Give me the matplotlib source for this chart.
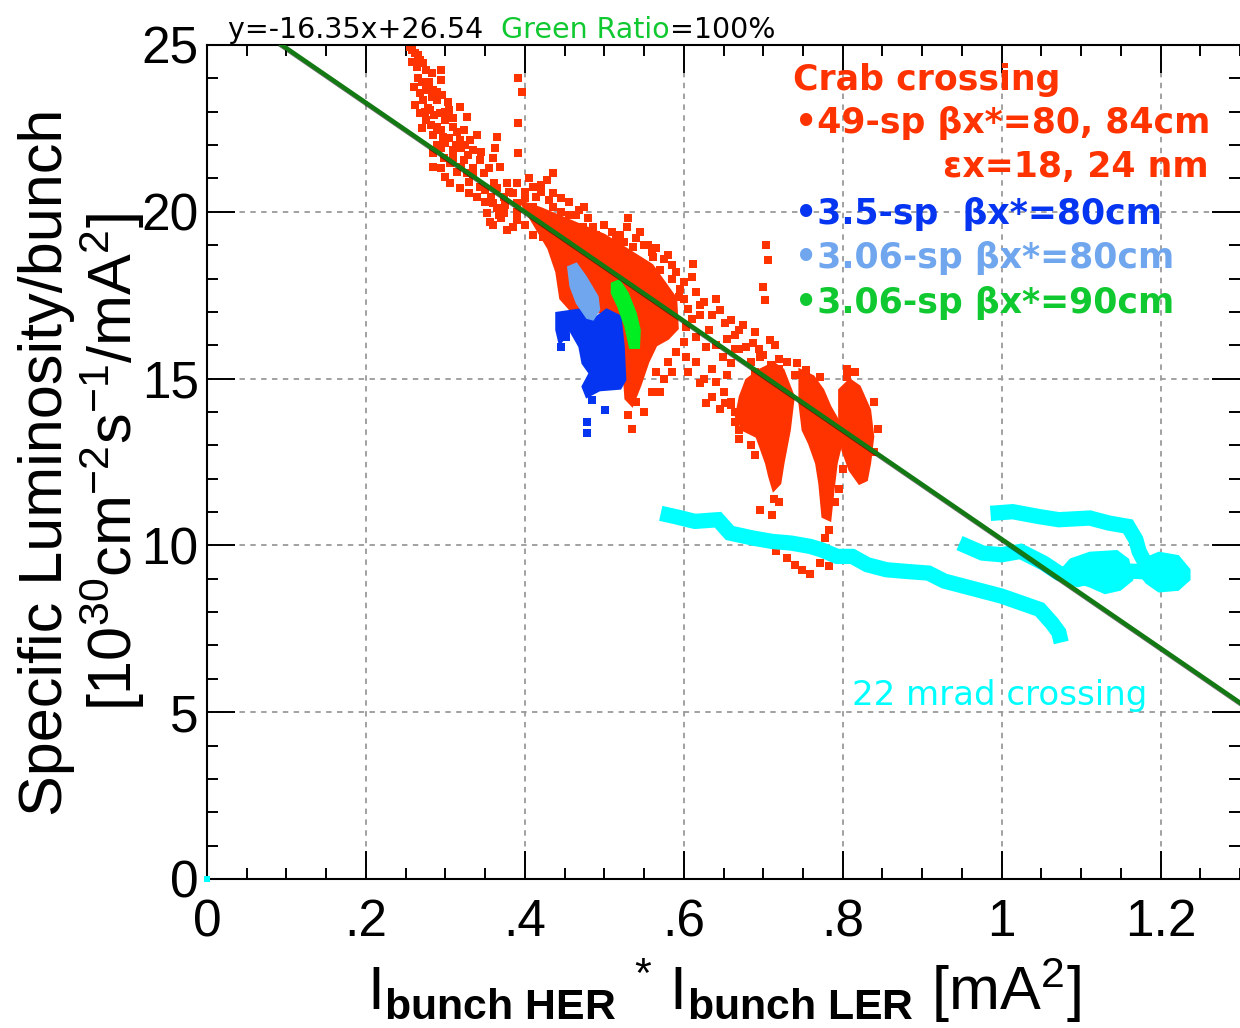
import matplotlib
matplotlib.use('Agg')
import matplotlib.pyplot as plt
import matplotlib.patheffects as pe
import numpy as np

plt.rcParams['mathtext.fontset'] = 'custom'
plt.rcParams['mathtext.rm'] = 'Liberation Sans'
plt.rcParams['mathtext.it'] = 'Liberation Sans'
plt.rcParams['mathtext.bf'] = 'Liberation Sans:bold'

# ---------------- data ----------------
x_ticks = [0, 0.2, 0.4, 0.6, 0.8, 1.0, 1.2]
x_tick_labels = ['0', '.2', '.4', '.6', '.8', '1', '1.2']
y_ticks = [0, 5, 10, 15, 20, 25]
y_tick_labels = ['0', '5', '10', '15', '20', '25']

fit_slope = -16.35
fit_intercept = 26.54
fit_x = [0.0, 1.3]

# crab crossing 49-sp (red) scattered points
red_x = [0.255, 0.262, 0.268, 0.264, 0.276, 0.283, 0.295, 0.295, 0.260, 0.276, 0.285, 0.272, 0.289, 0.303,
         0.281, 0.268, 0.293, 0.318, 0.327, 0.276, 0.300, 0.289, 0.310, 0.323, 0.297, 0.318, 0.331, 0.365,
         0.285, 0.310, 0.335, 0.363, 0.285, 0.306, 0.323, 0.344, 0.327, 0.348, 0.369, 0.306, 0.344, 0.361,
         0.340, 0.357, 0.374, 0.390, 0.410, 0.428, 0.436, 0.352, 0.356, 0.374, 0.378, 0.390, 0.390, 0.414,
         0.419, 0.423, 0.436, 0.436, 0.440, 0.448, 0.461, 0.475, 0.473, 0.486, 0.495, 0.515, 0.528, 0.511,
         0.536, 0.561, 0.570, 0.549,
         0.392, 0.396, 0.392, 0.392,
         0.265, 0.270, 0.280, 0.290, 0.278, 0.300, 0.285, 0.305, 0.295, 0.320, 0.315, 0.335, 0.330, 0.350,
         0.365, 0.380, 0.400, 0.370, 0.410, 0.420, 0.445, 0.455, 0.465, 0.480, 0.500, 0.520, 0.540, 0.555,
         0.560, 0.580, 0.590, 0.600, 0.600,
         0.258, 0.266, 0.272, 0.258, 0.268, 0.283, 0.296, 0.262, 0.274, 0.286, 0.305, 0.310,
         0.270, 0.282, 0.295, 0.315, 0.300, 0.313, 0.325, 0.340, 0.290,
         0.298, 0.310, 0.328, 0.345, 0.320, 0.335, 0.355, 0.360, 0.295, 0.300,
         0.318, 0.330, 0.350, 0.365, 0.378, 0.385, 0.360, 0.375, 0.390, 0.400, 0.405, 0.420, 0.430, 0.445,
         0.455, 0.468,
         0.360, 0.368, 0.385, 0.400, 0.410, 0.430, 0.450, 0.490, 0.510, 0.525, 0.530, 0.545, 0.550,
         0.565, 0.575, 0.585, 0.585, 0.595, 0.605, 0.610, 0.600, 0.590, 0.580, 0.575, 0.570, 0.585,
         0.612, 0.610, 0.616, 0.603, 0.620, 0.628, 0.632, 0.645, 0.652, 0.660, 0.670, 0.678, 0.687, 0.708,
         0.704, 0.706, 0.700, 0.702, 0.636, 0.652, 0.670, 0.678, 0.594, 0.586, 0.603, 0.628, 0.649, 0.660,
         0.696, 0.742, 0.754, 0.771, 0.805,
         0.615, 0.620, 0.625, 0.635, 0.640, 0.655, 0.665, 0.670, 0.675, 0.685, 0.690, 0.695, 0.700, 0.710,
         0.715, 0.720, 0.730, 0.740, 0.605, 0.615, 0.625, 0.640, 0.650, 0.660, 0.665, 0.645, 0.635, 0.655,
         0.530, 0.535, 0.540, 0.550, 0.560, 0.565,
         0.620, 0.640, 0.665, 0.690, 0.720,
         0.660, 0.665, 0.670, 0.685, 0.690, 0.805, 0.800, 0.840, 0.845, 0.840, 0.805, 0.815, 0.795, 0.790,
         0.720, 0.714,
         0.696, 0.711, 0.716, 0.730, 0.740, 0.749, 0.759, 0.771, 0.778, 0.783, 0.783]
red_y = [24.95, 24.75, 24.55, 24.35, 24.25, 24.15, 24.25, 23.95, 23.75, 23.65, 23.65, 23.35, 23.35, 23.30,
         23.05, 22.95, 22.95, 23.15, 22.85, 22.75, 22.75, 22.55, 22.55, 22.45, 22.25, 22.15, 22.15, 22.25,
         21.75, 21.85, 21.85, 21.90, 21.35, 21.45, 21.55, 21.55, 21.15, 21.15, 21.35, 20.85, 20.75, 20.85,
         20.45, 20.45, 20.45, 20.85, 20.75, 20.95, 21.15, 19.95, 19.70, 19.95, 19.45, 20.25, 19.75, 20.45,
         19.95, 19.25, 20.55, 20.15, 19.55, 19.15, 19.55, 20.15, 19.55, 19.55, 19.15, 19.15, 19.55, 18.75,
         18.95, 18.65, 18.25, 18.25,
         24.00, 23.60, 22.65, 21.75,
         24.00, 23.90, 23.90, 23.60, 23.10, 23.00, 22.30, 22.20, 21.90, 21.90, 21.20, 21.30, 20.90, 20.30,
         20.10, 20.60, 20.40, 19.80, 20.15, 20.60, 20.00, 19.90, 19.90, 19.80, 19.60, 19.30, 19.20, 19.00,
         18.80, 18.70, 18.20, 17.90, 17.40,
         24.85, 24.70, 24.45, 24.50, 23.55, 23.45, 23.50, 23.20, 23.00, 22.90, 23.05, 22.80,
         22.50, 22.60, 22.45, 22.40, 22.05, 22.00, 22.00, 22.30, 22.00,
         21.60, 21.60, 21.70, 21.80, 21.35, 21.10, 21.30, 21.60, 21.30, 21.05,
         20.70, 20.55, 20.65, 20.70, 20.85, 20.55, 20.25, 20.20, 20.00, 20.60, 21.00, 20.80, 20.35, 20.40,
         20.30, 20.05,
         19.60, 19.90, 19.55, 19.60, 19.30, 19.70, 19.60, 19.30, 19.40, 19.10, 19.80, 19.40, 19.00,
         18.90, 18.60, 18.40, 18.00, 17.70, 17.10, 16.80, 16.10, 15.80, 15.50, 15.00, 14.60, 15.20,
         18.45, 18.06, 16.26, 15.66, 14.86, 14.26, 16.46, 17.06, 16.66, 16.76, 16.46, 15.96, 16.06, 16.16,
         19.00, 18.55, 17.76, 17.36, 14.46, 14.26, 13.46, 13.56, 17.46, 16.96, 16.56, 15.96, 15.66, 15.46,
         15.66, 15.46, 15.26, 15.06, 15.06,
         17.60, 16.90, 17.30, 16.90, 17.40, 16.20, 16.30, 15.90, 16.60, 15.50, 16.40, 15.90, 15.70, 15.40,
         16.00, 15.30, 15.50, 15.10, 15.20, 15.50, 15.00, 14.90, 14.60, 14.30, 14.00, 14.10, 15.30, 15.10,
         13.90, 13.50, 14.30, 14.00, 14.60, 15.20,
         17.20, 16.00, 15.90, 15.20, 15.60,
         14.20, 13.70, 13.20, 13.00, 12.70, 13.00, 12.30, 12.80, 13.50, 14.30, 15.30, 15.20, 11.70, 11.30,
         11.30, 11.40,
         11.06, 10.91, 9.82, 9.62, 9.42, 9.27, 9.13, 9.47, 10.22, 10.47, 9.37]

# dense red regions (outlines of the solid point clouds)
red_band_x = [0.395, 0.420, 0.450, 0.480, 0.500, 0.520, 0.540, 0.560, 0.575, 0.590, 0.592,
              0.580, 0.565, 0.555, 0.545, 0.535, 0.527, 0.524, 0.520, 0.500, 0.460, 0.445,
              0.440, 0.430, 0.415]
red_band_y = [20.30, 20.10, 19.80, 19.50, 19.30, 19.00, 18.70, 18.40, 17.90, 17.40, 16.50,
              16.20, 16.00, 15.50, 14.80, 14.20, 14.40, 15.50, 16.50, 17.00, 17.00, 17.40,
              18.20, 18.90, 19.50]
red_blob1_x = [0.679, 0.696, 0.713, 0.725, 0.738, 0.733, 0.729, 0.725, 0.721, 0.713, 0.708, 0.704,
               0.692, 0.675, 0.666, 0.671]
red_blob1_y = [14.96, 15.26, 15.46, 15.26, 14.46, 13.46, 12.96, 12.46, 11.86, 11.66, 12.06, 12.46,
               13.26, 13.46, 13.86, 14.46]
red_blob2_x = [0.746, 0.763, 0.775, 0.784, 0.796, 0.800, 0.792, 0.788, 0.784, 0.775, 0.771, 0.767,
               0.758, 0.750, 0.746]
red_blob2_y = [15.26, 15.06, 14.66, 14.16, 13.66, 13.26, 12.46, 11.66, 10.76, 10.86, 11.86, 12.46,
               13.06, 13.46, 14.26]
red_blob3_x = [0.796, 0.809, 0.821, 0.834, 0.838, 0.834, 0.830, 0.821, 0.809, 0.800, 0.796]
red_blob3_y = [14.66, 14.96, 14.76, 14.06, 13.26, 12.46, 11.96, 11.86, 12.26, 12.86, 13.86]

# 3.5-sp (blue)
blue_x = [0.440, 0.469, 0.486, 0.503, 0.520, 0.524, 0.526, 0.520, 0.494, 0.478, 0.473, 0.482,
          0.473, 0.469, 0.457, 0.444, 0.440]
blue_y = [16.96, 17.06, 16.76, 17.06, 16.86, 15.96, 14.96, 14.71, 14.66, 14.46, 14.76, 15.16,
          15.46, 15.96, 16.46, 16.06, 16.46]
blue_pts_x = [0.501, 0.478, 0.478, 0.445, 0.452, 0.485, 0.490, 0.465]
blue_pts_y = [14.06, 13.71, 13.36, 15.95, 16.25, 14.35, 14.90, 16.40]

# 3.06-sp 80cm (light blue)
lblue_x = [0.454, 0.465, 0.477, 0.492, 0.494, 0.486, 0.478, 0.465, 0.457]
lblue_y = [18.35, 18.46, 18.06, 17.46, 17.06, 16.76, 16.81, 17.26, 17.76]

# 3.06-sp 90cm (green)
green_x = [0.509, 0.519, 0.530, 0.540, 0.545, 0.544, 0.532, 0.526, 0.517, 0.509]
green_y = [17.86, 17.96, 17.56, 16.96, 16.46, 15.91, 15.91, 16.56, 17.16, 17.56]

# 22 mrad crossing (cyan) tracks
cyan1_x = [0.571, 0.590, 0.614, 0.643, 0.658, 0.687, 0.711, 0.735, 0.759, 0.773, 0.793, 0.812, 0.831,
           0.855, 0.880, 0.908, 0.928, 0.952, 0.976, 1.000, 1.024, 1.048, 1.063, 1.072, 1.075]
cyan1_y = [10.96, 10.86, 10.72, 10.77, 10.37, 10.22, 10.12, 10.07, 9.97, 9.87, 9.67, 9.67, 9.42,
           9.27, 9.22, 9.17, 8.93, 8.78, 8.63, 8.48, 8.28, 8.08, 7.68, 7.39, 7.09]
cyan2_x = [0.986, 1.014, 1.048, 1.072, 1.111, 1.135, 1.159, 1.169, 1.173, 1.180]
cyan2_y = [10.96, 11.01, 10.86, 10.77, 10.82, 10.67, 10.57, 10.17, 9.82, 9.50]
cyan3_x = [0.947, 0.976, 1.000, 1.024, 1.053, 1.072, 1.096, 1.140, 1.190]
cyan3_y = [10.07, 9.77, 9.72, 9.82, 9.47, 9.17, 8.98, 9.25, 9.20]
cyan_blobA_x = [1.087, 1.111, 1.145, 1.159, 1.164, 1.149, 1.130, 1.111, 1.087, 1.072]
cyan_blobA_y = [9.57, 9.77, 9.82, 9.57, 8.97, 8.68, 8.58, 8.78, 8.97, 9.17]
cyan_blobB_x = [1.178, 1.198, 1.222, 1.236, 1.236, 1.222, 1.198, 1.183, 1.169]
cyan_blobB_y = [9.57, 9.77, 9.67, 9.27, 8.98, 8.68, 8.63, 8.88, 9.27]
cyan_origin_x = [0.0]
cyan_origin_y = [0.0]

legend_lines = ['Crab crossing', '\u202249-sp \u03b2x*=80, 84cm', '\u03b5x=18, 24 nm',
                '\u20223.5-sp  \u03b2x*=80cm', '\u20223.06-sp \u03b2x*=80cm', '\u20223.06-sp \u03b2x*=90cm']

# ---------------- colours ----------------
RED = '#ff3300'
BLUE = '#0535f0'
LBLUE = '#6fa6ee'
GREEN = '#00ee22'
GREEN_TXT = '#10c830'
CYAN = '#00ffff'
LINE_GREEN = '#137a13'

W, H = 1240, 1028
fig = plt.figure(figsize=(W / 100, H / 100), dpi=100)
ax = fig.add_axes([207 / W, 149 / H, 1033 / W, 834 / H])
ax.set_xlim(0, 1.3)
ax.set_ylim(0, 25)

# grid
ax.grid(True, which='major', color='#9a9a9a', linestyle=(0, (3, 3)), linewidth=1.3, zorder=0)
ax.set_axisbelow(True)

ms = 5.8
# red
for px, py in [(red_band_x, red_band_y), (red_blob1_x, red_blob1_y), (red_blob2_x, red_blob2_y),
               (red_blob3_x, red_blob3_y)]:
    ax.fill(px, py, color=RED, lw=2, ec=RED, zorder=2)
ax.plot(red_x, red_y, 's', color=RED, ms=ms, mew=0, zorder=2)

# cyan
for cx, cy in [(cyan1_x, cyan1_y), (cyan2_x, cyan2_y), (cyan3_x, cyan3_y)]:
    ax.plot(cx, cy, '-', color=CYAN, lw=11, solid_joinstyle='miter', solid_capstyle='butt', zorder=2)
for cx, cy in [(cyan_blobA_x, cyan_blobA_y), (cyan_blobB_x, cyan_blobB_y)]:
    ax.fill(cx, cy, color=CYAN, lw=2, ec=CYAN, zorder=2)
ax.plot(cyan_origin_x, cyan_origin_y, 's', color=CYAN, ms=5, mew=0, zorder=5, clip_on=False)

# blue / light blue / green
ax.fill(blue_x, blue_y, color=BLUE, lw=2, ec=BLUE, zorder=3)
ax.plot(blue_pts_x, blue_pts_y, 's', color=BLUE, ms=ms, mew=0, zorder=3)
ax.fill(lblue_x, lblue_y, color=LBLUE, lw=1, ec=LBLUE, zorder=3)
ax.fill(green_x, green_y, color=GREEN, lw=1, ec=GREEN, zorder=3)

# fit line
fx = np.array(fit_x)
ax.plot(fx, fit_slope * fx + fit_intercept, color=LINE_GREEN, lw=3.2, zorder=4,
        path_effects=[pe.SimpleLineShadow(offset=(1.2, -1.5), shadow_color='black', alpha=0.55),
                      pe.Normal()])

# ticks
ax.set_xticks(x_ticks)
ax.set_xticklabels(x_tick_labels)
ax.set_yticks(y_ticks)
ax.set_yticklabels(y_tick_labels)
ax.set_xticks(np.arange(0, 1.31, 0.05), minor=True)
ax.set_yticks(np.arange(0, 25.1, 1), minor=True)
ax.tick_params(which='both', direction='in', top=True, right=True, width=1.4, color='black')
ax.tick_params(which='major', length=20)
ax.tick_params(which='minor', length=8)
ax.tick_params(axis='x', which='major', pad=14)
ax.tick_params(axis='y', which='major', pad=6)
for lab in ax.get_xticklabels() + ax.get_yticklabels():
    lab.set_fontfamily('Liberation Sans')
    lab.set_fontsize(37)
for s in ['left', 'bottom', 'top']:
    ax.spines[s].set_linewidth(1.5)
ax.spines['right'].set_visible(False)

# axis labels
ax.set_xlabel(r'I$_{\mathbf{bunch\ HER}}$ $^{*}$ I$_{\mathbf{bunch\ LER}}$ [mA$^{2}$]',
              fontsize=44, fontfamily='Liberation Sans', labelpad=6)
fig.text(47 / W, 1 - 462 / H, 'Specific Luminosity/bunch', rotation=90, ha='center', va='center',
         fontsize=44, fontfamily='Liberation Sans')
fig.text(112 / W, 1 - 462 / H, r'[10$^{30}$cm$^{-2}$s$^{-1}$/mA$^{2}$]', rotation=90, ha='center',
         va='center', fontsize=44, fontfamily='Liberation Sans')

# top fit text
t1 = fig.text(228 / W, 1 - 38 / H, 'y=-16.35x+26.54  ', fontsize=20.5, fontfamily='DejaVu Sans',
              color='black', va='baseline')
t2 = ax.annotate('Green Ratio', xy=(1, 0), xycoords=t1, va='bottom', fontsize=20.5,
                 fontfamily='DejaVu Sans', color=GREEN_TXT, annotation_clip=False)
ax.annotate('=100%', xy=(1, 0), xycoords=t2, va='bottom', fontsize=20.5, fontfamily='DejaVu Sans',
            color='black', annotation_clip=False)

# legend-like annotations
leg_colors = [RED, RED, RED, BLUE, LBLUE, GREEN_TXT]
leg_x = [793, 795, 943, 795, 795, 795]
leg_y = [90, 133, 177, 224, 268, 313]
for txt, c, lx, ly in zip(legend_lines, leg_colors, leg_x, leg_y):
    fig.text(lx / W, 1 - ly / H, txt, color=c, fontsize=25, fontweight='bold',
             fontfamily='DejaVu Sans', va='baseline')

ax.text(0.997, 5.5, '22 mrad crossing', color=CYAN, fontsize=24.5, fontfamily='DejaVu Sans',
        ha='center', va='center')

fig.savefig('out.png', dpi=100)
